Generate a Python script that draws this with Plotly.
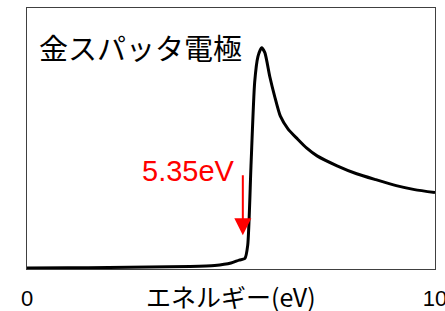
import plotly.graph_objects as go

# Energy (eV) and intensity (arbitrary units)
energy = [0.0, 1.0, 2.0, 3.0, 4.0, 4.6, 5.0, 5.2, 5.34, 5.41, 5.49, 5.58, 5.66, 5.75,
          5.83, 5.95, 6.07, 6.21, 6.40, 6.63, 6.85, 7.11, 7.60, 8.08, 8.55, 9.05, 9.50, 10.0]
intensity = [1.0, 1.2, 1.5, 2.0, 2.5, 3.5, 6.0, 9.0, 10.5, 24, 104, 188, 214, 223,
             218, 194, 174, 154, 141, 131, 122, 114, 104, 96, 90, 84, 80, 77]

x_ticks = [0, 10]
x_ticklabels = ["0", "10"]
title_text = "金スパッタ電極"
xlabel_text = "エネルギー(eV)"
mark_label = "5.35eV"
mark_x = 5.29
mark_tip = 34
mark_tail = 96

fig = go.Figure()
fig.add_trace(go.Scatter(x=energy, y=intensity, mode="lines",
                         line=dict(color="black", width=3, shape="spline", smoothing=0.6),
                         hoverinfo="skip", showlegend=False))

fig.add_annotation(x=mark_x, y=mark_tip, ax=mark_x, ay=mark_tail, xref="x", yref="y",
                   axref="x", ayref="y", text="", showarrow=True, arrowhead=2,
                   arrowsize=1.7, arrowwidth=2, arrowcolor="#ff0000")
fig.add_annotation(x=3.97, y=99, xref="x", yref="y", text=mark_label, showarrow=False,
                   font=dict(family="Liberation Sans, Arial", size=29, color="#ff0000"))
fig.add_annotation(x=2.79, y=224, xref="x", yref="y", text=title_text, showarrow=False,
                   font=dict(family="Noto Sans CJK JP", size=29, color="black"))
fig.add_annotation(x=0.5, y=0, xref="paper", yref="paper", yshift=-27, yanchor="middle",
                   text=xlabel_text, showarrow=False,
                   font=dict(family="Noto Sans CJK JP", size=25, color="black"))

fig.update_layout(width=453, height=317, margin=dict(l=27, r=6, t=8, b=41),
                  plot_bgcolor="white", paper_bgcolor="white")
fig.update_xaxes(range=[0, 10], tickvals=x_ticks, ticktext=x_ticklabels, showgrid=False,
                 zeroline=False, showline=True, mirror=True, linecolor="#404040", linewidth=1,
                 ticks="", ticklabelstandoff=10, ticklabeloverflow="allow",
                 tickfont=dict(family="Liberation Sans, Arial", size=22, color="black"))
fig.update_yaxes(range=[0, 263], showticklabels=False, showgrid=False, zeroline=False,
                 showline=True, mirror=True, linecolor="#404040", linewidth=1, ticks="")
fig.write_html("out.html", config={"displayModeBar": False, "staticPlot": True},
               post_script=("document.body.style.margin='0';"
                            "document.body.style.overflow='hidden';"
                            "document.documentElement.style.overflow='hidden';"))
